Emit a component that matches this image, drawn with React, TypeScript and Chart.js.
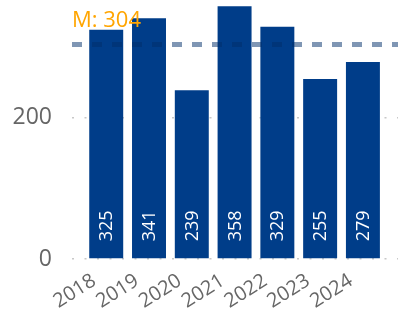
import React, { useEffect, useRef } from "react";
import { Chart, registerables } from "chart.js";

Chart.register(...registerables);

const categories = ["2018", "2019", "2020", "2021", "2022", "2023", "2024"];
const values = [325, 341, 239, 358, 329, 255, 279];
const yTicks = [0, 200];

const FONT = "'Open Sans', 'Noto Sans', sans-serif";

export default function App() {
  const ref = useRef<HTMLCanvasElement | null>(null);

  useEffect(() => {
    document.body.style.margin = "0";
    const canvas = ref.current;
    if (!canvas) return;
    const mean = Math.round(values.reduce((a, b) => a + b, 0) / values.length);
    const xMin = -0.8;
    const xMax = 6.82;

    const labelsPlugin = {
      id: "labelsPlugin",
      afterDatasetsDraw(chart: any) {
        const ctx = chart.ctx;
        const meta = chart.getDatasetMeta(1);
        ctx.save();
        ctx.fillStyle = "#ffffff";
        ctx.font = `18px ${FONT}`;
        ctx.textAlign = "left";
        ctx.textBaseline = "middle";
        meta.data.forEach((bar: any, i: number) => {
          ctx.save();
          ctx.translate(bar.x, bar.base - 17);
          ctx.rotate(-Math.PI / 2);
          ctx.fillText(String(values[i]), 0, 1);
          ctx.restore();
        });
        ctx.restore();
      },
      afterDraw(chart: any) {
        const ctx = chart.ctx;
        const y = chart.scales.y.getPixelForValue(mean);
        ctx.save();
        ctx.fillStyle = "#FFA500";
        ctx.font = `22px ${FONT}`;
        ctx.textAlign = "left";
        ctx.textBaseline = "alphabetic";
        ctx.fillText(`M: ${mean}`, chart.chartArea.left, y - 17);
        ctx.restore();
      },
    };

    const noPad = (s: any) => {
      s.paddingLeft = 0;
      s.paddingRight = 0;
      s.paddingTop = 0;
      s.paddingBottom = 0;
    };

    const chart = new Chart(canvas, {
      type: "bar",
      data: {
        datasets: [
          {
            type: "line",
            data: [
              { x: xMin, y: mean },
              { x: xMax, y: mean },
            ],
            borderColor: "rgba(0,45,105,0.5)",
            borderWidth: 5,
            borderDash: [10, 10],
            pointRadius: 0,
            order: 0,
          } as any,
          {
            type: "bar",
            data: values.map((v, i) => ({ x: i, y: v })),
            backgroundColor: "#003D89",
            barPercentage: 0.794,
            categoryPercentage: 1,
            order: 1,
          },
        ],
      },
      plugins: [labelsPlugin],
      options: {
        animation: false,
        responsive: false,
        layout: { padding: 0, autoPadding: false },
        plugins: { legend: { display: false }, tooltip: { enabled: false } },
        scales: {
          x: {
            type: "linear",
            min: xMin,
            max: xMax,
            offset: false,
            grid: { display: false, offset: false },
            border: { display: false },
            afterFit: (s: any) => {
              s.height = 55;
              noPad(s);
            },
            afterBuildTicks: (s: any) => {
              s.ticks = categories.map((_, i) => ({ value: i }));
            },
            ticks: {
              autoSkip: false,
              minRotation: 32,
              maxRotation: 32,
              padding: 2,
              labelOffset: -12,
              color: "#666666",
              font: { family: FONT, size: 20 },
              callback: (v: any) => categories[Math.round(Number(v))] ?? "",
            },
          },
          y: {
            min: 0,
            max: 367,
            afterFit: (s: any) => {
              s.width = 72;
              noPad(s);
            },
            afterBuildTicks: (s: any) => {
              s.ticks = yTicks.map((v) => ({ value: v }));
            },
            grid: {
              color: "#c8c8c8",
              lineWidth: 1.5,
              drawTicks: false,
            },
            border: { display: false, dash: [2, 10.5] },
            ticks: {
              padding: 20,
              color: "#666666",
              font: { family: FONT, size: 23 },
            },
          },
        },
      },
    });
    return () => chart.destroy();
  }, []);

  return (
    <div style={{ width: 398, height: 314 }}>
      <canvas ref={ref} width={398} height={314} />
    </div>
  );
}
